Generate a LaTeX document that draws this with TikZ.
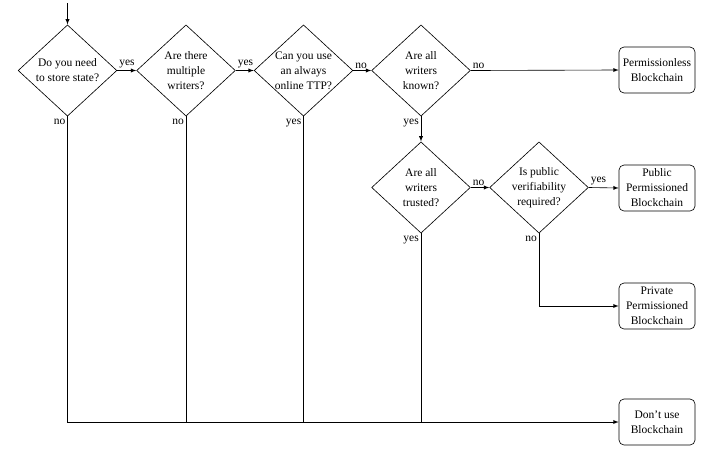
\documentclass[tikz,border=0pt]{standalone}
\usepackage{fontspec}
\setmainfont{Liberation Serif}
\usetikzlibrary{shapes.geometric,arrows}

\tikzset{
    question/.style={draw=black, diamond, aspect=1.09, inner sep=0pt, align=center,
        minimum width=79pt, minimum height=73pt},
    outcome/.style={draw=black, rounded corners=4pt, align=center,
        minimum width=60.8pt, minimum height=36.8pt, inner sep=1pt},
    flow/.style={->, >=latex},
    choice/.style={inner sep=1.5pt}
}

\begin{document}
\begin{tikzpicture}[x=0.8pt, y=-0.8pt, line width=0.5pt, font=\fontsize{9.2}{12}\selectfont]
    \useasboundingbox (0,0) rectangle (709,453);

    % questions
    \node[question] (store) at (67.5,70.5) {Do you need\\to store state?};
    \node[question] (multi) at (186,70.5) {Are there\\multiple\\writers?};
    \node[question] (ttp) at (303.5,70.5) {Can you use\\an always\\online TTP?};
    \node[question] (known) at (421,70.5) {Are all\\writers\\known?};
    \node[question] (trusted) at (421,187.5) {Are all\\writers\\trusted?};
    \node[question] (verif) at (539,187.5) {Is public\\verifiability\\required?};

    % outcomes
    \node[outcome] (permless) at (657,70) {Permissionless\\Blockchain};
    \node[outcome] (public) at (657,188) {Public\\Permissioned\\Blockchain};
    \node[outcome] (private) at (657,306) {Private\\Permissioned\\Blockchain};
    \node[outcome] (nochain) at (657,422) {Don't use\\Blockchain};

    \coordinate (start) at (67.5,3);

    % yes / no edges
    \draw[flow] (start) -- (store.north);
    \draw[flow] (store.east) -- node[choice, pos=0, anchor=south west] {yes} (multi.west);
    \draw[flow] (multi.east) -- node[choice, pos=0, anchor=south west] {yes} (ttp.west);
    \draw[flow] (ttp.east) -- node[choice, pos=0, anchor=south west] {no} (known.west);
    \draw[flow] (known.east) -- node[choice, pos=0, anchor=south west] {no} (permless.west);
    \draw[flow] (known.south) -- node[choice, pos=0, anchor=north east] {yes} (trusted.north);
    \draw[flow] (trusted.east) -- node[choice, pos=0, anchor=south west] {no} (verif.west);
    \draw[flow] (verif.east) -- node[choice, pos=0, anchor=south west] {yes} (public.west);
    \draw[flow] (verif.south) node[choice, anchor=north east] {no} |- (private.west);

    % paths to "don't use"
    \draw[flow] (store.south) node[choice, anchor=north east] {no} |- (nochain.west);
    \draw (multi.south) node[choice, anchor=north east] {no} -- (multi.south |- nochain.west);
    \draw (ttp.south) node[choice, anchor=north east] {yes} -- (ttp.south |- nochain.west);
    \draw (trusted.south) node[choice, anchor=north east] {yes} -- (trusted.south |- nochain.west);
\end{tikzpicture}
\end{document}
